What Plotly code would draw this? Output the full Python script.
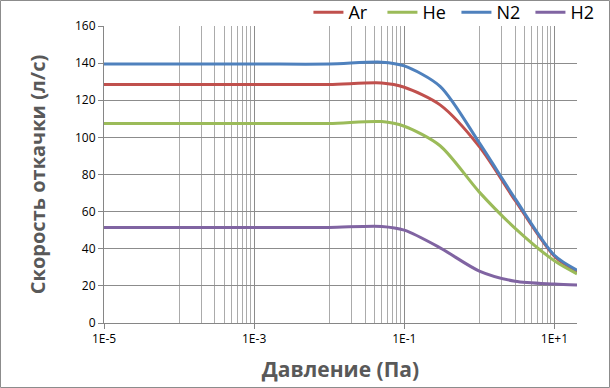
import plotly.graph_objects as go

# ---- data ----
pressure = [1e-5, 1e-3, 1e-2, 0.05, 0.1, 0.3, 1, 3, 10, 20]
ar = [128.5, 128.5, 128.5, 129.3, 127.0, 117.5, 95.0, 66.0, 36.0, 27.5]
he = [107.5, 107.5, 107.5, 108.5, 106.0, 95.5, 70.5, 51.0, 33.5, 26.5]
n2 = [139.5, 139.5, 139.5, 140.5, 138.5, 127.5, 97.0, 67.0, 36.5, 28.5]
h2 = [51.5, 51.5, 51.5, 52.0, 50.0, 40.5, 28.0, 22.5, 21.0, 20.5]

series_names = ["Ar", "He", "N2", "H2"]
series_values = [ar, he, n2, h2]
series_colors = ["#C0504D", "#9BBB59", "#4F81BD", "#8064A2"]

x_major_ticks = [1e-5, 1e-3, 1e-1, 1e1]
x_major_labels = ["1E-5", "1E-3", "1E-1", "1E+1"]
x_minor_ticks = ([k * 1e-4 for k in range(1, 10)] +
                 [k * 1e-2 for k in range(1, 10)] +
                 [k * 1.0 for k in range(1, 10)] + [20])

W, H = 610, 388
ML, MR, MT, MB = 104, 33, 26, 65

fig = go.Figure()
for name, vals, col in zip(series_names, series_values, series_colors):
    fig.add_trace(go.Scatter(
        x=pressure, y=vals, name=name, mode="lines",
        line=dict(color=col, width=3, shape="spline", smoothing=0.8),
    ))

pw = W - ML - MR
ph = H - MT - MB
fig.add_shape(type="rect", xref="paper", yref="paper",
              x0=(0.5 - ML) / pw, x1=(W - 0.5 - ML) / pw,
              y0=-(MB - 0.5) / ph, y1=(ph + MT - 0.5) / ph,
              line=dict(color="#8C8C8C", width=1), fillcolor="rgba(0,0,0,0)",
              layer="above")

fig.update_layout(
    width=W, height=H,
    margin=dict(l=ML, r=MR, t=MT, b=MB, pad=0, autoexpand=False),
    paper_bgcolor="white", plot_bgcolor="white",
    font=dict(family="Open Sans, Liberation Sans, sans-serif", color="#000000"),
    showlegend=True,
    legend=dict(orientation="h", x=1.058, xanchor="right", y=1.045, yanchor="middle",
                font=dict(size=18, color="#000000"), bgcolor="rgba(0,0,0,0)",
                itemwidth=30, tracegroupgap=0, entrywidth=29, entrywidthmode="pixels"),
    xaxis=dict(
        type="log", range=[-5, 1.30103], automargin=False,
        tickvals=x_major_ticks, ticktext=x_major_labels,
        tickfont=dict(size=12, color="#000000"),
        ticks="outside", ticklen=5, tickcolor="#868686",
        showline=True, linecolor="#868686", linewidth=1,
        showgrid=True, gridcolor="#8C8C8C", gridwidth=1,
        minor=dict(tickvals=x_minor_ticks, showgrid=True, gridcolor="#ABABAB",
                   gridwidth=1, ticks=""),
        zeroline=False,
        title=dict(text="Давление (Па)", standoff=15,
                   font=dict(size=21, color="#595959", family="Open Sans, sans-serif",
                             weight="bold")),
    ),
    yaxis=dict(
        range=[0, 160], dtick=20, tick0=0, automargin=False,
        tickfont=dict(size=12, color="#000000"),
        ticks="outside", ticklen=5, tickcolor="#868686",
        showline=True, linecolor="#868686", linewidth=1,
        showgrid=True, gridcolor="#8C8C8C", gridwidth=1,
        zeroline=False,
        title=dict(text="Скорость откачки (л/с)", standoff=24,
                   font=dict(size=20, color="#595959", family="Open Sans, sans-serif",
                             weight="bold")),
    ),
)

fig.write_html("out.html", config={"displayModeBar": False},
               post_script="document.body.style.margin='0';")
